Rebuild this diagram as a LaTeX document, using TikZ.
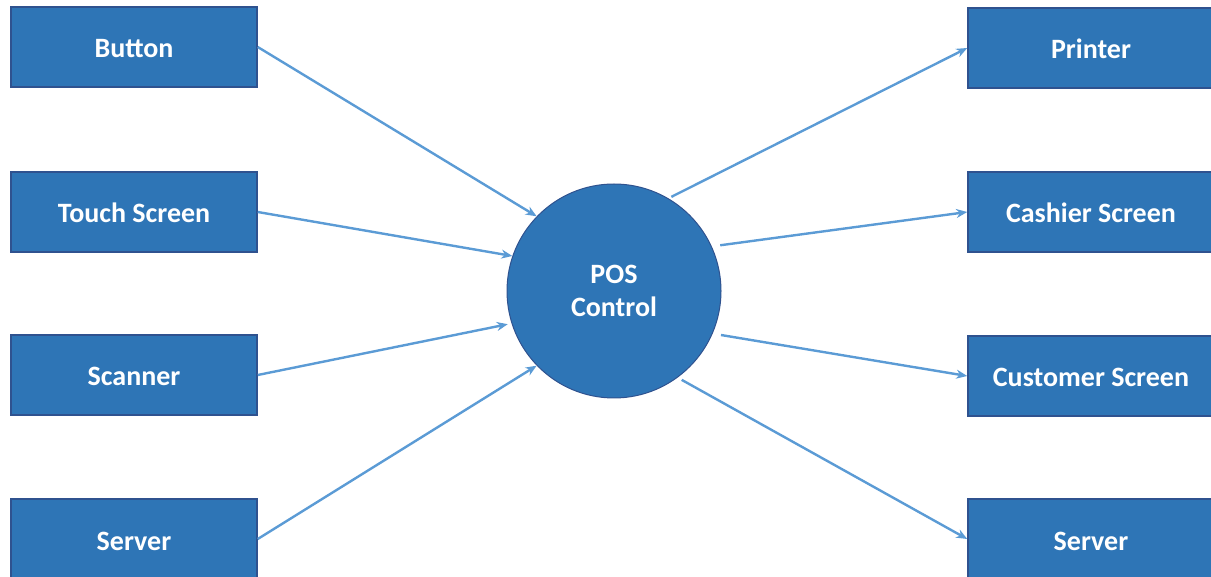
\documentclass[tikz,border=0pt]{standalone}
\usepackage{fontspec}
\setmainfont{Carlito}
\usetikzlibrary{arrows.meta}
\definecolor{boxfill}{HTML}{2E75B6}
\definecolor{boxline}{HTML}{2F528F}
\definecolor{arrcol}{HTML}{5B9BD5}
\begin{document}
\begin{tikzpicture}[x=1pt,y=-1pt,
  dev/.style={draw=boxline, line width=1.5pt, fill=boxfill, minimum width=246pt, minimum height=80pt, inner sep=0pt, text height=23pt, text depth=1pt, text=white, font=\fontsize{28}{32}\selectfont\bfseries},
  hub/.style={circle, draw=boxline, line width=1pt, fill=boxfill, minimum size=214pt, inner sep=0pt, text=white, align=center, font=\fontsize{28}{33}\selectfont\bfseries},
  arr/.style={draw=arrcol, line width=2.4pt, -{Stealth[length=11pt,width=9pt]}}]
\useasboundingbox (0,0) rectangle (1211,577);
\clip (0,0) rectangle (1211,577);
\node[dev] (button) at (134,47) {Button};
\node[dev] (touch) at (134,212) {Touch Screen};
\node[dev] (scanner) at (134,375) {Scanner};
\node[dev] (serverin) at (134,539) {Server};
\node[dev] (printer) at (1091,48) {Printer};
\node[dev] (cashier) at (1091,212) {Cashier Screen};
\node[dev] (customer) at (1091,376) {Customer Screen};
\node[dev] (serverout) at (1091,539) {Server};
\node[hub] (pos) at (614,291) {POS\\Control};
\draw[arr] (button.east) -- (pos.136);
\draw[arr] (touch.east) -- (pos.161);
\draw[arr] (scanner.east) -- ([shift={(-4,0)}]pos.198);
\draw[arr] (serverin.east) -- (pos.224);
\draw[arr] ([shift={(2,-2)}]pos.59) -- (printer.west);
\draw[arr] ([shift={(8,-2)}]pos.24) -- (cashier.west);
\draw[arr] ([shift={(8,2)}]pos.-23) -- (customer.west);
\draw[arr] ([shift={(3,3)}]pos.-53) -- (serverout.west);
\end{tikzpicture}
\end{document}
